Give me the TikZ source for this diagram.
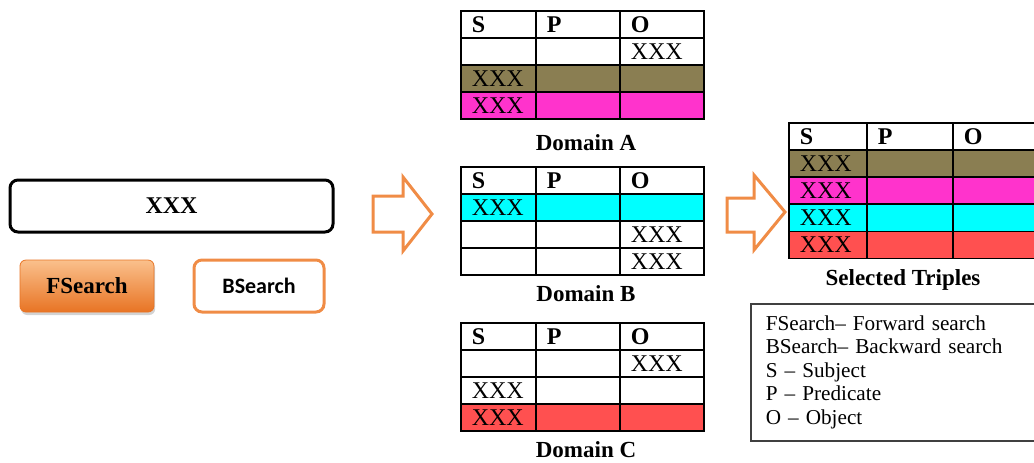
\documentclass[tikz,border=0pt]{standalone}
\usepackage{fontspec}
\setmainfont{Liberation Serif}
\newfontfamily\btnsans{Carlito}
\usetikzlibrary{shadows}

\definecolor{domolive}{RGB}{138,126,82}
\definecolor{dommagenta}{RGB}{255,51,204}
\definecolor{domcyan}{RGB}{0,255,255}
\definecolor{domred}{RGB}{255,80,80}
\definecolor{btnedge}{RGB}{240,140,70}
\definecolor{btnlight}{RGB}{250,192,140}
\definecolor{btndark}{RGB}{232,116,36}

\begin{document}
\begin{tikzpicture}[x=0.5pt,y=-0.5pt,
	cell/.style={draw,line width=0.8pt,anchor=north west,inner xsep=5.5pt,inner ysep=0pt,minimum height=13.5pt,align=left,font=\fontsize{12}{12}\selectfont},
	hdr/.style={font=\bfseries\fontsize{12}{12}\selectfont},
	colS/.style={text width=26.5pt},
	colP/.style={text width=31pt},
	selS/.style={text width=28pt},
	selP/.style={text width=32pt},
	caption/.style={font=\bfseries\fontsize{11.5}{12}\selectfont},
	bigarrow/.style={draw=btnedge,line width=1.5pt,fill=white,line join=miter}]
	\useasboundingbox (0,0) rectangle (1034,462);
	\draw (171.5,206) node (query) [draw,line width=1.5pt,rounded corners=4pt,minimum width=161.5pt,minimum height=26pt,font=\bfseries\fontsize{12}{12}\selectfont] {XXX};
	\draw (87,286) node (fsearch) [draw=btndark,rounded corners=3pt,top color=btnlight,bottom color=btndark,minimum width=67pt,minimum height=26pt,drop shadow={shadow xshift=0.6pt,shadow yshift=-1.5pt,opacity=0.35},font=\bfseries\fontsize{11.5}{12}\selectfont] {FSearch};
	\draw (259,286) node (bsearch) [draw=btnedge,line width=1.5pt,rounded corners=4pt,fill=white,minimum width=65pt,minimum height=26pt,font=\btnsans\bfseries\fontsize{11}{12}\selectfont] {BSearch};
	\draw[bigarrow] (373,196) -- (403,196) -- (403,177) -- (432,214) -- (403,251) -- (403,232) -- (373,232) -- cycle;
	\draw[bigarrow] (727,198) -- (754,198) -- (754,175) -- (785,212) -- (754,250) -- (754,232) -- (727,232) -- cycle;
	\foreach \tab/\ty/\ly in {A/10/143,B/166/294,C/322/450} {
		\node[cell,colS,hdr] (\tab0s) at (460,\ty) {S};
		\node[cell,colP,hdr] (\tab0p) at (535,\ty) {P};
		\node[cell,colP,hdr] (\tab0o) at (619,\ty) {O};
		\node[caption] (dom\tab) at (586,\ly) {Domain \tab};
	}
	\foreach \tab/\ty/\r/\fc/\s/\o in {A/10/1/white/{}/XXX,A/10/2/domolive/XXX/{},A/10/3/dommagenta/XXX/{},
		B/166/1/domcyan/XXX/{},B/166/2/white/{}/XXX,B/166/3/white/{}/XXX,
		C/322/1/white/{}/XXX,C/322/2/white/XXX/{},C/322/3/domred/XXX/{}} {
		\node[cell,colS,fill=\fc] (\tab\r s) at (460,\ty+27*\r) {\s};
		\node[cell,colP,fill=\fc] (\tab\r p) at (535,\ty+27*\r) {};
		\node[cell,colP,fill=\fc] (\tab\r o) at (619,\ty+27*\r) {\o};
	}
	\node[cell,selS,hdr] (sel0s) at (788,122) {S};
	\node[cell,selP,hdr] (sel0p) at (866,122) {P};
	\node[cell,selP,hdr] (sel0o) at (952,122) {O};
	\foreach \fc [count=\r] in {domolive,dommagenta,domcyan,domred} {
		\node[cell,selS,fill=\fc] (sel\r s) at (788,122+27.2*\r) {XXX};
		\node[cell,selP,fill=\fc] (sel\r p) at (866,122+27.2*\r) {};
		\node[cell,selP,fill=\fc] (sel\r o) at (952,122+27.2*\r) {};
	}
	\node[caption] (selcap) at (903,280) {Selected Triples};
	\node (legend) [draw=black!75,line width=0.8pt,anchor=north west,inner xsep=7.5pt,text width=150pt,minimum height=68.5pt,align=left,font=\fontsize{10.6}{11.75}\selectfont] at (750,303) {FSearch– Forward search\\BSearch– Backward search\\S – Subject\\P – Predicate\\O – Object};
\end{tikzpicture}
\end{document}
